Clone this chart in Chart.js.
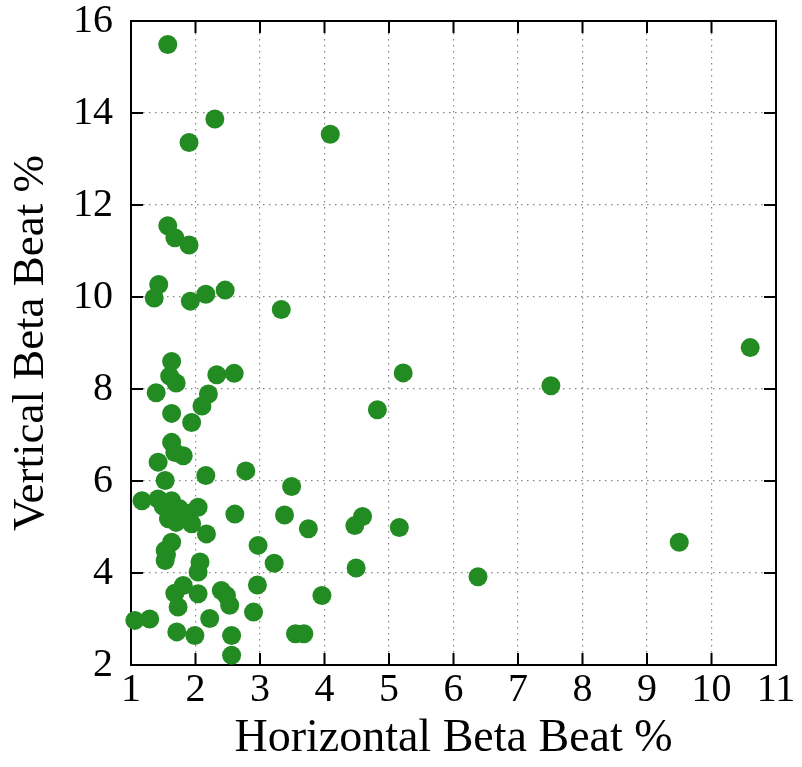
<!DOCTYPE html>
<html>
<head>
<meta charset="utf-8">
<title>Beta beat scatter</title>
<script src="https://cdn.jsdelivr.net/npm/chart.js@4/dist/chart.umd.min.js"></script>
<style>
  body { margin: 0; background: #fff; }
  #wrap { width: 802px; height: 767px; }
</style>
</head>
<body>
<div id="wrap"><canvas id="beat" width="802" height="767"></canvas></div>
<script>
var horizBeat = [
    1.57, 2.30, 1.90, 4.09, 1.57, 1.68, 1.90, 1.43, 1.36, 1.92,
    2.16, 2.46, 3.33, 10.60, 5.22, 7.51, 4.82, 1.63, 1.60, 1.70,
    1.39, 2.33, 2.60, 2.20, 2.10, 1.63, 1.94, 1.63, 1.68, 1.81,
    1.42, 1.53, 2.16, 2.78, 3.49, 1.17, 1.42, 1.63, 1.50, 2.04,
    1.84, 2.61, 3.38, 1.58, 1.70, 1.94, 2.17, 3.75, 4.59, 4.47,
    5.16, 9.50, 1.63, 1.53, 1.53, 2.07, 2.04, 2.97, 3.22, 4.49,
    6.38, 1.81, 2.96, 2.04, 2.40, 2.48, 1.68, 1.73, 2.53, 3.96,
    2.90, 1.06, 1.29, 2.22, 1.71, 1.99, 2.56, 2.56, 3.55, 3.68,
    1.75, 1.90, 1.55
];
var vertBeat = [
    15.49, 13.87, 13.36, 13.54, 11.55, 11.29, 11.13, 10.27, 9.98, 9.91,
    10.06, 10.15, 9.73, 8.90, 8.35, 8.07, 7.55, 8.60, 8.28, 8.13,
    7.92, 8.31, 8.34, 7.89, 7.63, 7.47, 7.27, 6.84, 6.62, 6.55,
    6.41, 6.01, 6.12, 6.22, 5.88, 5.57, 5.61, 5.57, 5.45, 5.43,
    5.25, 5.28, 5.26, 5.18, 5.10, 5.07, 4.85, 4.96, 5.23, 5.03,
    4.99, 4.67, 4.67, 4.49, 4.27, 4.24, 4.02, 4.60, 4.21, 4.11,
    3.92, 3.73, 3.74, 3.55, 3.62, 3.51, 3.56, 3.26, 3.30, 3.51,
    3.15, 2.97, 3.00, 3.01, 2.72, 2.64, 2.64, 2.21, 2.68, 2.68,
    5.40, 5.30, 4.40
];

var points = [];
for (var i = 0; i < horizBeat.length; i++) {
    points.push({ x: horizBeat[i], y: vertBeat[i] });
}

var serif = "'Liberation Serif', 'Times New Roman', serif";

// gnuplot-like frame with ticks pointing inwards on all four sides
var framePlugin = {
    id: 'frame',
    beforeDatasetsDraw: function (chart) {
        var ctx = chart.ctx;
        var a = chart.chartArea;
        var xs = chart.scales.x;
        var ys = chart.scales.y;
        var len = 12;
        ctx.save();
        ctx.strokeStyle = '#000';
        ctx.lineWidth = 2;
        ctx.beginPath();
        xs.ticks.forEach(function (t) {
            var px = xs.getPixelForValue(t.value);
            ctx.moveTo(px, a.bottom); ctx.lineTo(px, a.bottom - len);
            ctx.moveTo(px, a.top); ctx.lineTo(px, a.top + len);
        });
        ys.ticks.forEach(function (t) {
            var py = ys.getPixelForValue(t.value);
            ctx.moveTo(a.left, py); ctx.lineTo(a.left + len, py);
            ctx.moveTo(a.right, py); ctx.lineTo(a.right - len, py);
        });
        ctx.stroke();
        ctx.strokeRect(a.left, a.top, a.right - a.left, a.bottom - a.top);
        ctx.restore();
    }
};

new Chart(document.getElementById('beat'), {
    type: 'scatter',
    data: {
        datasets: [{
            data: points,
            backgroundColor: 'rgb(34, 139, 34)',
            borderColor: 'rgb(34, 139, 34)',
            borderWidth: 0,
            pointRadius: 9.5,
            pointHoverRadius: 9.5,
            clip: false
        }]
    },
    options: {
        responsive: false,
        animation: false,
        layout: { padding: { top: 21, right: 26, left: 0, bottom: 0 } },
        plugins: {
            legend: { display: false },
            tooltip: { enabled: false }
        },
        scales: {
            x: {
                type: 'linear',
                min: 1,
                max: 11,
                afterFit: function (scale) {
                    scale.height = 102;
                    scale.paddingLeft = 0;
                    scale.paddingRight = 0;
                },
                ticks: {
                    stepSize: 1,
                    color: '#000',
                    padding: 1,
                    font: { family: serif, size: 40 }
                },
                grid: {
                    color: '#888',
                    lineWidth: 1.2,
                    drawTicks: false
                },
                border: { display: false, dash: [1.5, 4.5] },
                title: {
                    display: true,
                    text: 'Horizontal Beta Beat %',
                    color: '#000',
                    padding: { top: 0, bottom: 0 },
                    font: { family: serif, size: 46 }
                }
            },
            y: {
                type: 'linear',
                min: 2,
                max: 16,
                afterFit: function (scale) {
                    scale.width = 131;
                    scale.paddingTop = 0;
                    scale.paddingBottom = 0;
                },
                ticks: {
                    stepSize: 2,
                    color: '#000',
                    padding: 18,
                    font: { family: serif, size: 40 }
                },
                grid: {
                    color: '#888',
                    lineWidth: 1.2,
                    drawTicks: false
                },
                border: { display: false, dash: [1.5, 4.5] },
                title: {
                    display: true,
                    text: 'Vertical Beta Beat %',
                    color: '#000',
                    padding: { top: 4, bottom: 0 },
                    font: { family: serif, size: 45 }
                }
            }
        }
    },
    plugins: [framePlugin]
});
</script>
</body>
</html>
